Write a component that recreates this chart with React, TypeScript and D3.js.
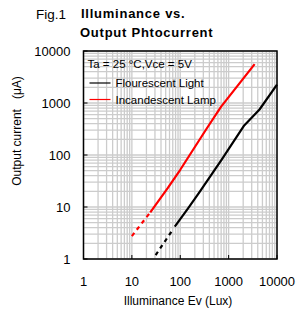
import React, { useEffect, useRef } from "react";
import * as d3 from "d3";

interface Pt {
  lux: number;
  ua: number;
}

const xTicks = [1, 10, 100, 1000, 10000];
const yTicks = [1, 10, 100, 1000, 10000];

// red: incandescent lamp
const incandescentDashed: Pt[] = [
  { lux: 10, ua: 2.76 },
  { lux: 24, ua: 7.9 },
];
const incandescentSolid: Pt[] = [
  { lux: 24, ua: 7.9 },
  { lux: 55, ua: 23 },
  { lux: 100, ua: 52 },
  { lux: 350, ua: 320 },
  { lux: 700, ua: 850 },
  { lux: 3450, ua: 5600 },
];

// black: flourescent light
const flourescentDashed: Pt[] = [
  { lux: 31, ua: 1.19 },
  { lux: 72, ua: 3.8 },
];
const flourescentSolid: Pt[] = [
  { lux: 77, ua: 4.2 },
  { lux: 145, ua: 9.4 },
  { lux: 252, ua: 19.6 },
  { lux: 707, ua: 80 },
  { lux: 2100, ua: 370 },
  { lux: 4350, ua: 750 },
  { lux: 10000, ua: 2250 },
];

const font = "'Liberation Sans', Arial, sans-serif";

const App: React.FC = () => {
  const svgRef = useRef<SVGSVGElement>(null);

  useEffect(() => {
    const margin = { top: 51, left: 83.5, right: 19, bottom: 52 };
    const W = 296;
    const H = 311;
    const width = W - margin.left - margin.right;
    const height = H - margin.top - margin.bottom;

    const svg = d3.select(svgRef.current);
    svg.selectAll("*").remove();

    const x = d3.scaleLog().domain([1, 10000]).range([0, width]);
    const y = d3.scaleLog().domain([1, 10000]).range([height, 0]);

    // titles
    svg.append("text").attr("x", 36).attr("y", 19).attr("font-family", font)
      .attr("font-size", 13.5).text("Fig.1");
    svg.append("text").attr("x", 81).attr("y", 18).attr("font-family", font)
      .attr("font-size", 13).attr("letter-spacing", 0.75).attr("font-weight", "bold")
      .text("Illuminance vs.");
    svg.append("text").attr("x", 80).attr("y", 36.5).attr("font-family", font)
      .attr("font-size", 13).attr("letter-spacing", 0.75).attr("font-weight", "bold")
      .text("Output Phtocurrent");

    const g = svg.append("g").attr("transform", `translate(${margin.left},${margin.top})`);

    g.append("rect").attr("width", width).attr("height", height).attr("fill", "#fff");

    // grid
    const minor: number[] = [];
    for (let d = 1; d < 10000; d *= 10) for (let k = 1; k <= 10; k++) minor.push(d * k);
    const uniq = Array.from(new Set(minor));
    g.append("g").selectAll("line").data(uniq).enter().append("line")
      .attr("x1", (d) => x(d)).attr("x2", (d) => x(d)).attr("y1", 0).attr("y2", height)
      .attr("stroke", "#cccccc").attr("stroke-width", 1.3);
    g.append("g").selectAll("line").data(uniq).enter().append("line")
      .attr("y1", (d) => y(d)).attr("y2", (d) => y(d)).attr("x1", 0).attr("x2", width)
      .attr("stroke", "#cccccc").attr("stroke-width", 1.3);

    // ticks inward
    g.append("g").selectAll("line").data(xTicks).enter().append("line")
      .attr("x1", (d) => x(d)).attr("x2", (d) => x(d)).attr("y1", height).attr("y2", height - 4)
      .attr("stroke", "#000");
    g.append("g").selectAll("line").data(yTicks).enter().append("line")
      .attr("y1", (d) => y(d)).attr("y2", (d) => y(d)).attr("x1", 0).attr("x2", 4)
      .attr("stroke", "#000");

    g.append("rect").attr("width", width).attr("height", height)
      .attr("fill", "none").attr("stroke", "#000").attr("stroke-width", 1.5);

    // tick labels
    g.append("g").selectAll("text").data(xTicks).enter().append("text")
      .attr("x", (d) => x(d)).attr("y", height + 27).attr("text-anchor", "middle")
      .attr("font-family", font).attr("font-size", 13).text((d) => String(d));
    g.append("g").selectAll("text").data(yTicks).enter().append("text")
      .attr("x", -13).attr("y", (d) => y(d) + 4.5).attr("text-anchor", "end")
      .attr("font-family", font).attr("font-size", 13).text((d) => String(d));

    // axis titles
    svg.append("text").attr("x", 178).attr("y", 305).attr("text-anchor", "middle")
      .attr("font-family", font).attr("font-size", 12).text("Illuminance Ev (Lux)");
    svg.append("text").attr("transform", "translate(21,131) rotate(-90)")
      .attr("text-anchor", "middle").attr("font-family", font).attr("font-size", 12)
      .attr("xml:space", "preserve").text("Output current   (μA)");

    // legend
    g.append("text").attr("x", 4).attr("y", 17).attr("font-family", font)
      .attr("font-size", 11.5).text("Ta = 25 °C,Vce = 5V");
    const legend = [
      { label: "Flourescent Light", color: "#000" },
      { label: "Incandescent Lamp", color: "#ff0000" },
    ];
    legend.forEach((l, i) => {
      const ly = 32 + i * 16.5;
      g.append("line").attr("x1", 6).attr("x2", 27).attr("y1", ly).attr("y2", ly)
        .attr("stroke", l.color).attr("stroke-width", 1.2);
      g.append("text").attr("x", 32).attr("y", ly + 4).attr("font-family", font)
        .attr("font-size", 11.5).text(l.label);
    });

    const line = d3.line<Pt>().x((d) => x(d.lux)).y((d) => y(d.ua));

    const draw = (data: Pt[], color: string, dashed: boolean) => {
      g.append("path").datum(data).attr("fill", "none").attr("stroke", color)
        .attr("stroke-width", 2.2).attr("stroke-dasharray", dashed ? "4,4" : null)
        .attr("stroke-linejoin", "round").attr("d", line);
    };
    draw(incandescentDashed, "#ff0000", true);
    draw(incandescentSolid, "#ff0000", false);
    draw(flourescentDashed, "#000", true);
    draw(flourescentSolid, "#000", false);
  }, []);

  return (
    <svg ref={svgRef} width={296} height={311} style={{ position: "absolute", left: 0, top: 0 }}></svg>
  );
};

export default App;
